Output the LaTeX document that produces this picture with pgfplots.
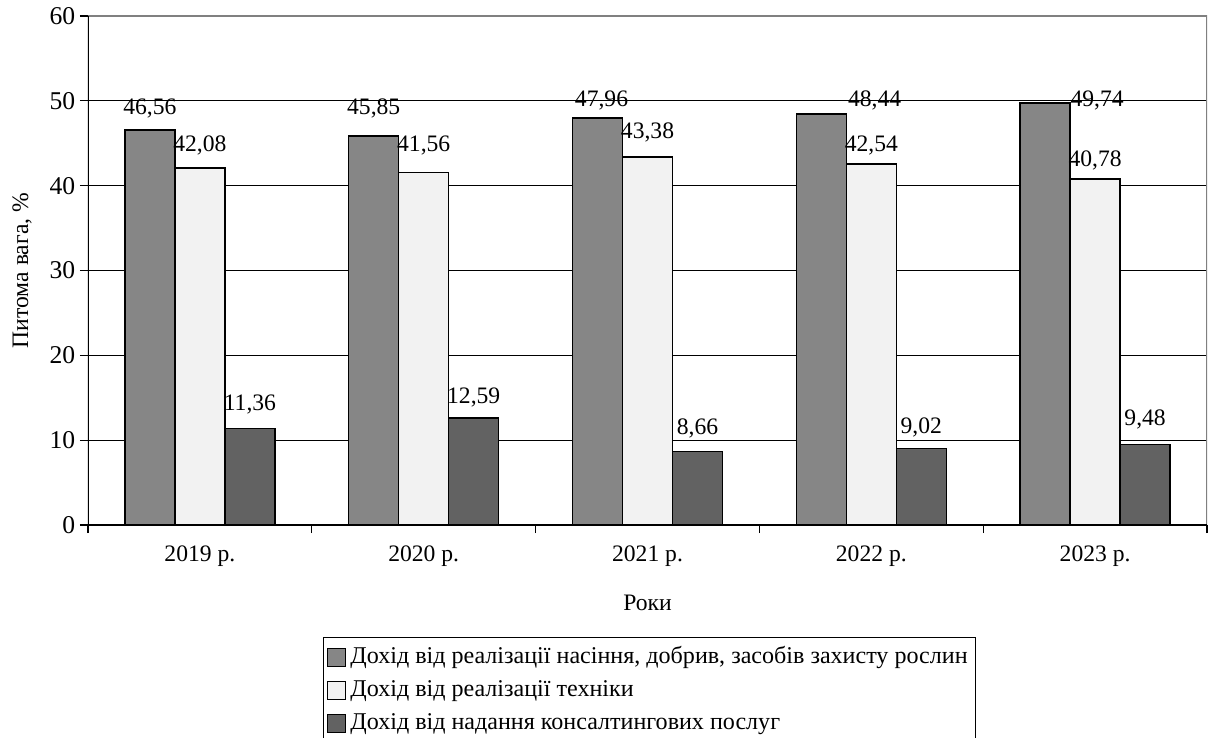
\documentclass[border=0pt]{standalone}
\usepackage{pgfplots}
\pgfplotsset{compat=1.18}
\usepackage{fontspec}
\setmainfont{Liberation Serif}
\definecolor{cA}{RGB}{134,134,134}
\definecolor{cB}{RGB}{242,242,242}
\definecolor{cC}{RGB}{98,98,98}
\newcommand{\fs}{\fontsize{17.7}{21}\selectfont}
\newcommand{\fl}{\fontsize{18.05}{22}\selectfont}
\newcommand{\fy}{\fontsize{19.2}{23}\selectfont}
\pgfplotstableread{
x y dx dy
0 46.56 0 16.5
1 45.85 0 21
2 47.96 3 13.5
3 48.44 40 10.5
4 49.74 39 2.25
}\dataA
\pgfplotstableread{
x y dx dy
0 42.08 0 17.25
1 41.56 0 20.25
2 43.38 0 18.75
3 42.54 0 14.25
4 40.78 0 14.25
}\dataB
\pgfplotstableread{
x y dx dy
0 11.36 0 18
1 12.59 0 15.75
2 8.66 0 17.25
3 9.02 0 15.75
4 9.48 0 18.75
}\dataC
\begin{document}
\begin{tikzpicture}
\begin{axis}[
  scale only axis,
  width=839.25pt, height=381.75pt,
  font=\fs,
  ybar=0pt, bar width=37.5pt,
  xmin=-0.5, xmax=4.5,
  ymin=0, ymax=60,
  ytick={0,10,...,60},
  xtick={0,1,2,3,4},
  xticklabels={2019 р.,2020 р.,2021 р.,2022 р.,2023 р.},
  minor xtick={-0.5,0.5,1.5,2.5,3.5,4.5},
  major x tick style={draw=none},
  minor x tick style={black, line width=0.8pt},
  minor tick length=6pt,
  major tick length=6pt,
  tick align=outside,
  xtick pos=bottom, ytick pos=left,
  y tick style={black, line width=0.8pt},
  ymajorgrids,
  major grid style={black, line width=0.7pt},
  axis line style={draw=none},
  /pgf/number format/assume math mode=true,
  xticklabel style={font=\fs, yshift=-5.75pt},
  yticklabel style={font=\fy, xshift=0pt},
  ylabel={Питома вага, \%},
  ylabel style={at={(axis description cs:-0.059,0.5)}, anchor=center},
  xlabel={Роки},
  xlabel style={at={(axis description cs:0.5,-0.1532)}, anchor=center},
  visualization depends on={\thisrow{dx}\as\dx},
  visualization depends on={\thisrow{dy}\as\dy},
  nodes near coords={\pgfmathprintnumber[fixed,fixed zerofill,precision=2,use comma,assume math mode=true]{\pgfplotspointmeta}},
  every node near coord/.append style={font=\fs, anchor=center, xshift=\dx pt, yshift=\dy pt},
  legend style={at={(axis description cs:0.5013,-0.22)}, anchor=north west, xshift=-244.5pt, draw=black, line width=0.6pt,
    font=\fl, cells={anchor=west}, row sep=3.75pt, inner xsep=3pt, inner ysep=4.5pt,
    nodes={text height=13pt, text depth=4pt, inner ysep=2pt, inner xsep=2.5pt}},
  legend image code/.code={\draw[#1, line width=0.6pt] (0pt,-6.5pt) rectangle (13pt,6.5pt); \path[draw=none,fill=none] (0pt,0pt) (14.5pt,0pt);},
]
\addplot[fill=cA, draw=black, line width=1.1pt] table[x=x,y=y] {\dataA};
\addplot[fill=cB, draw=black, line width=1.1pt] table[x=x,y=y] {\dataB};
\addplot[fill=cC, draw=black, line width=1.1pt] table[x=x,y=y] {\dataC};
\legend{{Дохід від реалізації насіння, добрив, засобів захисту рослин},{Дохід від реалізації техніки},{Дохід від надання консалтингових послуг}}
\draw[gray, line width=1pt] (rel axis cs:0,1) -- (rel axis cs:1,1) -- (rel axis cs:1,0);
\draw[black, line width=1pt] (rel axis cs:0,1) -- (rel axis cs:0,0) -- (rel axis cs:1,0);
\coordinate (bl) at (rel axis cs:0,0);
\end{axis}
\pgfresetboundingbox
\path[use as bounding box] (bl) ++(-66pt,-159.75pt) rectangle ++(907.5pt,553.5pt);
\end{tikzpicture}
\end{document}
